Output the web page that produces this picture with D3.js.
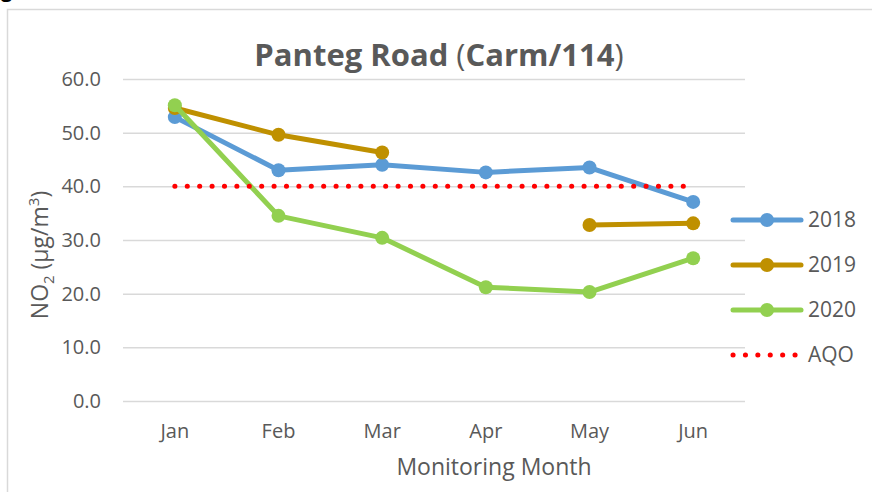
<!DOCTYPE html>
<html>
<head>
<meta charset="utf-8">
<script src="https://cdn.jsdelivr.net/npm/d3@7"></script>
<style>
body{margin:0;background:#fff;}
text{font-family:"Open Sans","Noto Sans",sans-serif;}
</style>
</head>
<body>
<div id="chart"></div>
<script>
/* NO2 monitoring - Panteg Road */

var months = ["Jan","Feb","Mar","Apr","May","Jun"];
var y2018 = [52.9,43.0,44.0,42.6,43.5,37.1];
var y2019 = [54.6,49.6,46.3,null,32.8,33.1];
var y2020 = [55.1,34.5,30.4,21.2,20.3,26.6];
var aqo = [40,40,40,40,40,40];
var yTicks = [0,10,20,30,40,50,60];

var W = 872, H = 492;
var margin = {top:79,left:123,right:127,bottom:91};
var w = W-margin.left-margin.right,
    h = H-margin.top-margin.bottom;

var svg = d3.select("#chart").append("svg")
  .attr("width",W).attr("height",H);

// caption above the frame (cut off in the source too)
svg.append("text").attr("x",1).attr("y",-3)
  .style("font-weight","bold").style("font-size","20px")
  .attr("fill","#000").text("g");
svg.append("rect").attr("x",7.5).attr("y",9.5)
  .attr("width",W).attr("height",H)
  .attr("fill","none").attr("stroke","#D9D9D9").attr("stroke-width",1.5);

var g = svg.append("g").attr("transform",`translate(${margin.left},${margin.top})`);

var x = d3.scaleBand().domain(months).range([0,w]);
var y = d3.scaleLinear().domain([0,60]).range([h,0]);

// grid
g.append("g")
  .call(d3.axisLeft(y).tickValues(yTicks).tickSize(-w).tickFormat(d3.format(".1f")))
  .call(function(a){
    a.select(".domain").remove();
    a.selectAll("line").attr("stroke","#D9D9D9").attr("stroke-width",1.5);
    a.selectAll("text").attr("x",-22).attr("fill","#595959")
      .style("font-size","20px");
  });

g.append("g").attr("transform","translate(0,"+h+")")
  .call(d3.axisBottom(x).tickSize(0))
  .call(function(a){
    a.select(".domain").remove();
    a.selectAll("text").attr("dy","1.7em").attr("fill","#595959")
      .style("font-size","20px");
  });

var series = [
  {name:"2018",vals:y2018,color:"#5B9BD5"},
  {name:"2019",vals:y2019,color:"#BF9000"},
  {name:"2020",vals:y2020,color:"#92D050"}
];

var line = d3.line()
  .defined(function(d){return d!=null;})
  .x(function(d,i){return x(months[i])+x.bandwidth()/2;})
  .y(function(d){return y(d);});

series.forEach(function(s){
  g.append("path").datum(s.vals)
    .attr("d",line).attr("fill","none")
    .attr("stroke",s.color).attr("stroke-width",5)
    .attr("stroke-linejoin","round").attr("stroke-linecap","round");
  g.selectAll(null).data(s.vals.map(function(v,i){return {v:v,m:months[i]};}).filter(function(d){return d.v!=null;}))
    .enter().append("circle")
    .attr("cx",function(d){return x(d.m)+x.bandwidth()/2;})
    .attr("cy",function(d){return y(d.v);})
    .attr("r",7).attr("fill",s.color);
});

g.append("path").datum(aqo)
  .attr("d",line).attr("fill","none")
  .attr("stroke","#FF0000").attr("stroke-width",5)
  .attr("stroke-linecap","round").attr("stroke-dasharray","0.1 12.3");

// title
var title = svg.append("text").attr("x",439).attr("y",66)
  .attr("text-anchor","middle").attr("fill","#595959")
  .style("font-size","31px");
title.append("tspan").style("font-weight","bold").text("Panteg Road ");
title.append("tspan").text("(");
title.append("tspan").style("font-weight","bold").text("Carm/114");
title.append("tspan").text(")");

// axis titles
var yt = svg.append("text")
  .attr("transform","translate(48,255)rotate(-90)")
  .attr("text-anchor","middle").attr("fill","#595959")
  .style("font-size","23px");
yt.append("tspan").text("NO");
yt.append("tspan").attr("dy",6).style("font-size","15px").text("2");
yt.append("tspan").attr("dy",-6).text(" (µg/m");
yt.append("tspan").attr("dy",-9).style("font-size","15px").text("3");
yt.append("tspan").attr("dy",9).text(")");

svg.append("text").attr("x",494).attr("y",475)
  .attr("text-anchor","middle").attr("fill","#595959")
  .style("font-size","23px").text("Monitoring Month");

// legend
var legItems = series.concat([{name:"AQO",color:"#FF0000",dotted:true}]);
var leg = svg.append("g").attr("transform","translate(733,220)");
legItems.forEach(function(s,i){
  var r = leg.append("g").attr("transform","translate(0,"+(i*45)+")");
  r.append("line").attr("x1",0).attr("x2",68)
    .attr("stroke",s.color).attr("stroke-width",5).attr("stroke-linecap","round")
    .attr("stroke-dasharray",s.dotted?"0.1 12.3":null);
  if(!s.dotted) r.append("circle").attr("cx",34).attr("r",7).attr("fill",s.color);
  r.append("text").attr("x",75).attr("dy","0.35em").attr("fill","#595959")
    .style("font-size","21px").text(s.name);
});
</script>
</body>
</html>
